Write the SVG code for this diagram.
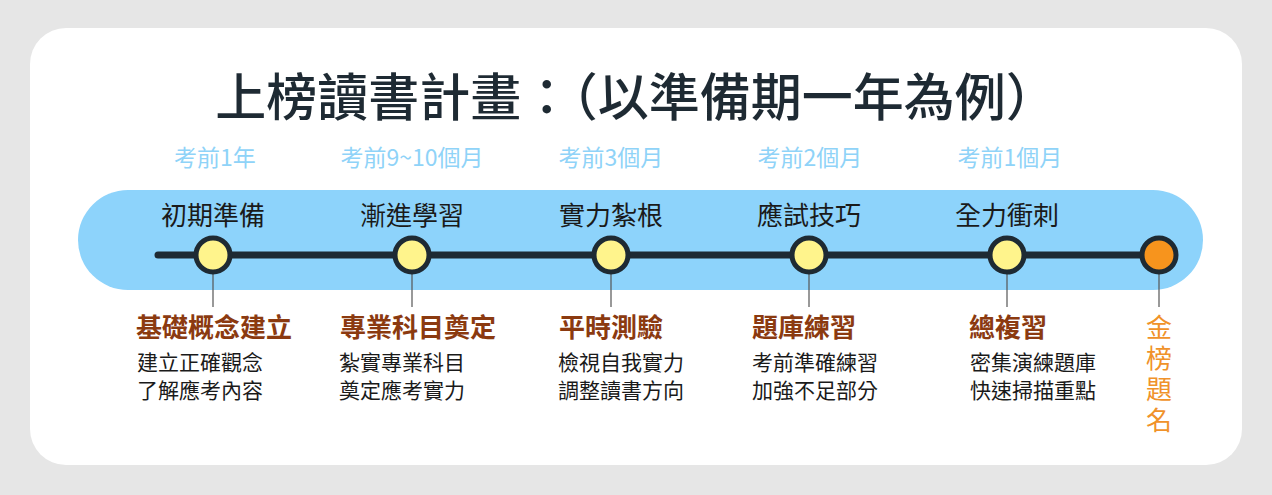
<svg xmlns="http://www.w3.org/2000/svg" width="1272" height="495" viewBox="0 0 1272 495">
<style>
text{font-family:"Noto Sans CJK TC","Noto Sans CJK SC",sans-serif;text-anchor:middle}
.t{font-size:23px;fill:#8fd3f8}
.h{font-size:26px;fill:#1a1a1a}
.b{font-size:26px;fill:#8b3a10;font-weight:bold}
.d{font-size:21px;fill:#1a1a1a}
.g{font-size:26px;fill:#f0922a}
.n{fill:#fff48c;stroke:#1e2a33;stroke-width:5}
.v{stroke:#555;stroke-width:1.2}
</style>
<rect width="1272" height="495" fill="#e6e6e6"/>
<rect x="30" y="28" width="1212" height="437" rx="36" fill="#fff"/>
<text x="636" y="116" style="font-size:51px;fill:#1e2a33;font-weight:500">上榜讀書計畫：（以準備期一年為例）</text>
<rect x="78" y="190" width="1125" height="100" rx="50" fill="#8dd3fb"/>
<g id="connectors">
<line x1="158" y1="255" x2="1158" y2="255" stroke="#1e2a33" stroke-width="7" stroke-linecap="round"/>
<line class="v" x1="213" y1="272" x2="213" y2="307"/>
<line class="v" x1="412" y1="272" x2="412" y2="307"/>
<line class="v" x1="611" y1="272" x2="611" y2="307"/>
<line class="v" x1="809" y1="272" x2="809" y2="307"/>
<line class="v" x1="1007" y1="272" x2="1007" y2="307"/>
<line class="v" x1="1159" y1="272" x2="1159" y2="307"/>
</g>
<g id="n1"><text class="t" x="215" y="166">考前1年</text><text class="h" x="213" y="225">初期準備</text><circle class="n" cx="213" cy="255" r="17"/><text class="b" x="214" y="337">基礎概念建立</text><text class="d" x="200" y="370">建立正確觀念</text><text class="d" x="200" y="398">了解應考內容</text></g>
<g id="n2"><text class="t" x="412" y="166">考前9~10個月</text><text class="h" x="412" y="225">漸進學習</text><circle class="n" cx="412" cy="255" r="17"/><text class="b" x="418" y="337">專業科目奠定</text><text class="d" x="402" y="370">紮實專業科目</text><text class="d" x="402" y="398">奠定應考實力</text></g>
<g id="n3"><text class="t" x="611" y="166">考前3個月</text><text class="h" x="611" y="225">實力紮根</text><circle class="n" cx="611" cy="255" r="17"/><text class="b" x="611" y="337">平時測驗</text><text class="d" x="621" y="370">檢視自我實力</text><text class="d" x="621" y="398">調整讀書方向</text></g>
<g id="n4"><text class="t" x="810" y="166">考前2個月</text><text class="h" x="809" y="225">應試技巧</text><circle class="n" cx="809" cy="255" r="17"/><text class="b" x="804" y="337">題庫練習</text><text class="d" x="815" y="370">考前準確練習</text><text class="d" x="815" y="398">加強不足部分</text></g>
<g id="n5"><text class="t" x="1010" y="166">考前1個月</text><text class="h" x="1007" y="225">全力衝刺</text><circle class="n" cx="1007" cy="255" r="17"/><text class="b" x="1008" y="337">總複習</text><text class="d" x="1033" y="370">密集演練題庫</text><text class="d" x="1033" y="398">快速掃描重點</text></g>
<g id="n6"><circle cx="1159" cy="255" r="17" fill="#f7941d" stroke="#1e2a33" stroke-width="5"/><text class="g" x="1159" y="337">金</text><text class="g" x="1159" y="368">榜</text><text class="g" x="1159" y="399">題</text><text class="g" x="1159" y="430">名</text></g>
</svg>
